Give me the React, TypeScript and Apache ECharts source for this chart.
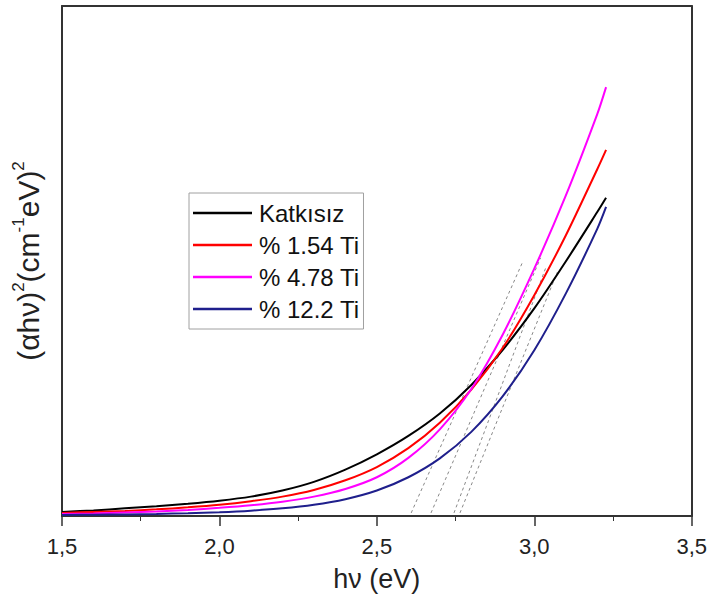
import React, { useEffect, useRef } from "react";
import * as echarts from "echarts";

// photon energy (eV)
const hv = [1.5, 1.6, 1.7, 1.8, 1.9, 2.0, 2.1, 2.2, 2.3, 2.4, 2.5, 2.6, 2.7, 2.8, 2.9, 3.0, 3.1, 3.2, 3.228];

// (αhν)² in arbitrary units (0–100 full scale)
const katkisiz = [0.8, 1.1, 1.5, 1.9, 2.4, 3.0, 3.8, 5.0, 6.7, 9.1, 12.1, 15.7, 20.1, 25.7, 32.6, 40.7, 49.9, 59.6, 62.4];
const ti154 = [0.6, 0.8, 1.0, 1.3, 1.7, 2.2, 2.9, 3.8, 5.1, 7.0, 9.6, 13.3, 18.3, 24.8, 33.0, 43.3, 55.0, 68.0, 71.8];
const ti478 = [0.4, 0.5, 0.7, 0.9, 1.2, 1.6, 2.1, 2.8, 3.8, 5.3, 7.6, 11.4, 17.0, 24.9, 35.6, 48.5, 62.8, 78.8, 84.1];
const ti122 = [0.2, 0.25, 0.3, 0.4, 0.55, 0.75, 1.05, 1.5, 2.2, 3.3, 5.0, 7.6, 11.3, 16.5, 23.5, 32.5, 43.6, 56.3, 60.6];

const seriesNames = ["Katkısız", "% 1.54 Ti", "% 4.78 Ti", "% 12.2 Ti"];
const seriesValues = [katkisiz, ti154, ti478, ti122];
const seriesColors = ["#000000", "#ff0000", "#ff00ff", "#1f1f8c"];

// linear extrapolation lines (band gap fits): [start, end] as [hv, value]
const tangentLines = [
  [[2.609, 0.6], [2.963, 49.8]],
  [[2.672, 0.6], [3.02, 50.6]],
  [[2.745, 0.6], [3.036, 48.6]],
  [[2.764, 0.6], [3.073, 47.8]],
];

const xMin = 1.5;
const xMax = 3.5;
const xStep = 0.5;

const FONT = "'Liberation Sans', Arial, sans-serif";

export default function App() {
  const ref = useRef<HTMLDivElement>(null);

  useEffect(() => {
    if (!ref.current) return;
    const chart = echarts.init(ref.current, undefined, { renderer: "svg" });

    const curveSeries = seriesNames.map((name, i) => ({
      name,
      type: "line",
      smooth: 0.3,
      symbol: "none",
      data: hv.map((x, j) => [x, seriesValues[i][j]]),
      lineStyle: { color: seriesColors[i], width: 2 },
      itemStyle: { color: seriesColors[i] },
      z: 3,
    }));

    const tangentSeries = tangentLines.map((pts, i) => ({
      name: "fit" + i,
      type: "line",
      symbol: "none",
      silent: true,
      data: pts,
      lineStyle: { color: "#888888", width: 1, type: [3, 3] },
      z: 2,
    }));

    chart.setOption({
      animation: false,
      backgroundColor: "#ffffff",
      grid: { left: 62, right: 16, top: 6, bottom: 86 },
      legend: {
        data: seriesNames,
        orient: "vertical",
        left: 189,
        top: 193,
        icon: "rect",
        itemWidth: 59,
        itemHeight: 2.5,
        itemGap: 8,
        borderColor: "#a0a0a0",
        borderWidth: 1,
        padding: [8, 4, 8, 4],
        textStyle: { fontSize: 24, fontFamily: FONT, color: "#111", lineHeight: 24, padding: [0, 0, 0, 2] },
      },
      xAxis: [
        {
          type: "value",
          min: xMin,
          max: xMax,
          interval: xStep,
          name: "hν (eV)",
          nameLocation: "middle",
          nameGap: 49,
          nameTextStyle: { fontSize: 27, fontFamily: FONT, color: "#222" },
          axisLine: { show: true, onZero: false, lineStyle: { color: "#333", width: 2 } },
          axisTick: { show: true, length: 10, lineStyle: { color: "#333", width: 1.5 } },
          minorTick: { show: true, splitNumber: 2, length: 5, lineStyle: { color: "#333", width: 1 } },
          axisLabel: {
            fontSize: 22,
            fontFamily: FONT,
            color: "#222",
            margin: 19,
            formatter: (v: number) => v.toFixed(1).replace(".", ","),
          },
          splitLine: { show: false },
        },
        {
          type: "value",
          position: "top",
          min: xMin,
          max: xMax,
          interval: xStep,
          axisLine: { show: true, onZero: false, lineStyle: { color: "#333", width: 2 } },
          axisTick: { show: false },
          axisLabel: { show: false },
          splitLine: { show: false },
        },
      ],
      yAxis: [
        {
          type: "value",
          min: 0,
          max: 100,
          name: "{a|(αhν)}{s|2}{a|(cm}{s|-1}{a|eV)}{s|2}",
          nameLocation: "middle",
          nameRotate: 90,
          nameGap: 16,
          nameTextStyle: {
            fontFamily: FONT,
            color: "#222",
            rich: {
              a: { fontSize: 30, fontFamily: FONT, color: "#222", lineHeight: 36 },
              s: { fontSize: 17, fontFamily: FONT, color: "#222", verticalAlign: "top", lineHeight: 36 },
            },
          },
          axisLine: { show: true, onZero: false, lineStyle: { color: "#333", width: 2 } },
          axisTick: { show: false },
          axisLabel: { show: false },
          splitLine: { show: false },
        },
        {
          type: "value",
          position: "right",
          min: 0,
          max: 100,
          axisLine: { show: true, onZero: false, lineStyle: { color: "#333", width: 2 } },
          axisTick: { show: false },
          axisLabel: { show: false },
          splitLine: { show: false },
        },
      ],
      series: [...tangentSeries, ...curveSeries],
    });

    return () => chart.dispose();
  }, []);

  return (
    <div
      ref={ref}
      style={{ position: "fixed", left: 0, top: 0, width: 710, height: 602, background: "#fff" }}
    />
  );
}
